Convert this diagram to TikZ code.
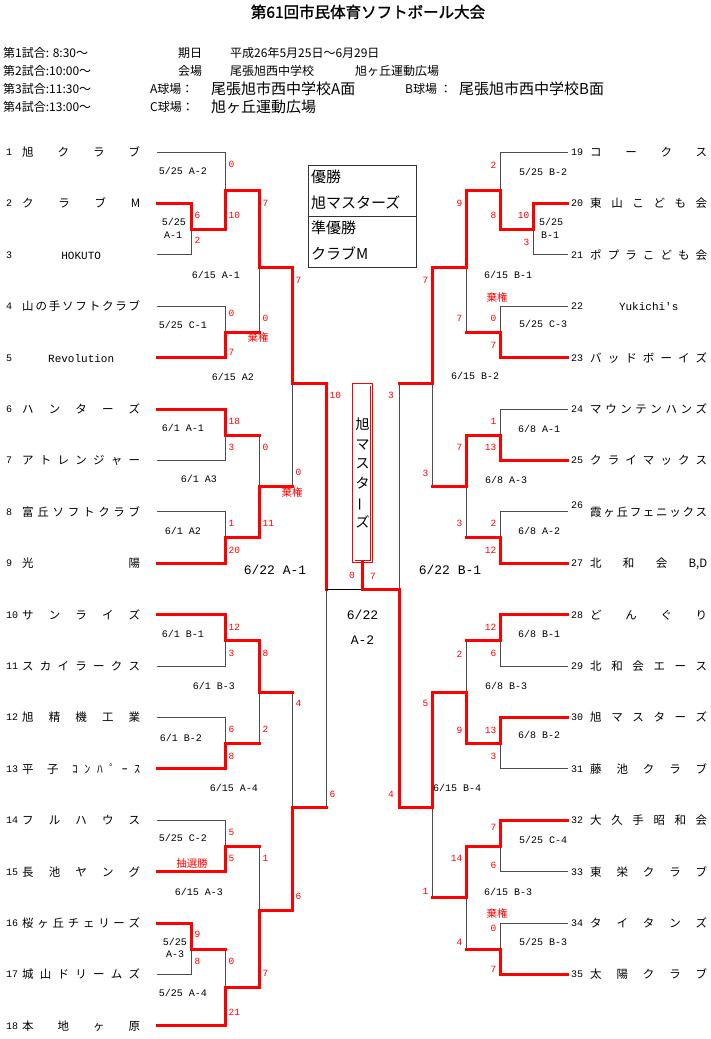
\documentclass[tikz,border=0pt]{standalone}
\usepackage{fontspec}
\setmainfont{Noto Sans CJK JP}
\newfontfamily\jpf{Noto Sans CJK JP}
\newfontfamily\titlef{Noto Sans CJK JP}[FakeBold=1.5]
\newfontfamily\monof{Liberation Mono}
\pgfdeclarelayer{bg}
\pgfsetlayers{bg,main}
\newcount\scn
\tikzset{
 thinln/.style={draw=black!70, line width=1pt, line cap=rect},
 redln/.style={draw=red, line width=3pt, line cap=rect},
 nm/.style={inner sep=0, font=\jpf\fontsize{11.5}{12}\selectfont, anchor=base west, yshift=-4.4pt},
 num/.style={inner sep=0, font=\monof\fontsize{10}{12}\selectfont, anchor=base west, yshift=-3.4pt},
 scl/.style={inner sep=0, text=red, font=\monof\fontsize{9.5}{10}\selectfont, anchor=base west, yshift=-3.2pt},
 scr/.style={scl, anchor=base east},
 scc/.style={scl, anchor=base},
 lab/.style={inner sep=0, font=\monof\fontsize{10}{11}\selectfont, anchor=base, yshift=-3.4pt},
 biglab/.style={inner sep=0, font=\monof\fontsize{13}{14}\selectfont, anchor=base, yshift=-4.5pt},
 redjp/.style={inner sep=0, text=red, font=\jpf\fontsize{10.5}{11}\selectfont, anchor=base, yshift=-3.8pt},
 hdr/.style={inner sep=0, font=\jpf\fontsize{12}{13}\selectfont, anchor=base west, yshift=-4.5pt},
 hdrbig/.style={inner sep=0, font=\jpf\fontsize{15}{16}\selectfont, anchor=base west, yshift=-5.6pt},
 boxtxt/.style={inner sep=0, font=\jpf\fontsize{15}{16}\selectfont, anchor=base west, yshift=-5.6pt},
 champbox/.style={draw=red, double=white, double distance=1.6pt, line width=0.9pt,
   minimum width=17.6pt, minimum height=176.6pt, inner sep=0, align=center,
   font=\jpf\fontsize{14}{19.5}\selectfont},
}
% match: x, ytop, ybot, yout, xnext, winner(t/b)
\newcommand\bm[6]{%
  \begin{pgfonlayer}{bg}%
  \if#6t\draw[thinln] (#1,#4) -- (#1,#3);\else\draw[thinln] (#1,#2) -- (#1,#4);\fi
  \end{pgfonlayer}%
  \if#6t\draw[redln] (#1,#2) -- (#1,#4) -- (#5,#4);\else\draw[redln] (#1,#3) -- (#1,#4) -- (#5,#4);\fi}
\newcommand\tlthin[3]{\begin{pgfonlayer}{bg}\draw[thinln] (#1,#3) -- (#2,#3);\end{pgfonlayer}}
\newcommand\tlred[3]{\draw[redln] (#1,#3) -- (#2,#3);}
\newcommand\teamL[3]{\node[num] (n#1) at (6,#2) {#1}; \node[nm] (t#1) at (22,#2) {\makebox[118pt][s]{#3}};}
\newcommand\teamR[3]{\node[num] (n#1) at (571,#2) {#1}; \node[nm] (t#1) at (590,#2) {\makebox[117pt][s]{#3}};}
\newcommand\sL[3]{\global\advance\scn by 1 \node[scl] (s\the\scn) at (#1,#2) {#3};}
\newcommand\sR[3]{\global\advance\scn by 1 \node[scr] (s\the\scn) at (#1,#2) {#3};}
\newcommand\sC[3]{\global\advance\scn by 1 \node[scc] (s\the\scn) at (#1,#2) {#3};}
\newcommand\lb[3]{\global\advance\scn by 1 \node[lab] (l\the\scn) at (#1,#2) {#3};}
\newcommand\blb[3]{\global\advance\scn by 1 \node[biglab] (l\the\scn) at (#1,#2) {#3};}
\newcommand\rj[3]{\global\advance\scn by 1 \node[redjp] (r\the\scn) at (#1,#2) {#3};}
\newcommand\cen[1]{\hfill{\monof\fontsize{11}{12}\selectfont #1}\hfill}
\begin{document}
\begin{tikzpicture}[x=1pt,y=-1pt]
\useasboundingbox (0,0) rectangle (710,1039);
\begin{pgfonlayer}{bg}
\fill[white] (0,0) rectangle (710,1039);
\end{pgfonlayer}
% title and header
\node[inner sep=0, font=\titlef\fontsize{15.5}{16}\selectfont, anchor=base, yshift=-5.8pt] (title) at (368,12) {第61回市民体育ソフトボール大会};
\node[hdr] (h1) at (3,53) {第1試合: 8:30～};
\node[hdr] (h2) at (3,71) {第2試合:10:00～};
\node[hdr] (h3) at (3,89) {第3試合:11:30～};
\node[hdr] (h4) at (3,107) {第4試合:13:00～};
\node[hdr] (h5) at (178,53) {期日};
\node[hdr] (h6) at (230,53) {平成26年5月25日～6月29日};
\node[hdr] (h7) at (178,71) {会場};
\node[hdr] (h8) at (230,71) {尾張旭西中学校};
\node[hdr] (h9) at (355,71) {旭ヶ丘運動広場};
\node[hdr] (h10) at (150,89) {A球場：};
\node[hdrbig] (h11) at (211,89) {尾張旭市西中学校A面};
\node[hdr] (h12) at (405,89) {B球場 ：};
\node[hdrbig] (h13) at (459,89) {尾張旭市西中学校B面};
\node[hdr] (h14) at (150,107) {C球場：};
\node[hdrbig] (h15) at (211,107) {旭ヶ丘運動広場};
% winner box
\node[draw=black!80, line width=1pt, minimum width=108pt, minimum height=102pt, inner sep=0] (wbox) at (362,216) {};
\draw[draw=black!80, line width=1pt] (wbox.west) -- (wbox.east);
\node[boxtxt] (w1) at (311,177) {優勝};
\node[boxtxt] (w2) at (311,203) {旭マスターズ};
\node[boxtxt] (w3) at (311,228) {準優勝};
\node[boxtxt] (w4) at (311,254) {クラブM};
% teams left
\teamL{1}{152}{旭\hfill ク\hfill ラ\hfill ブ}
\teamL{2}{203.4}{ク\hfill ラ\hfill ブ\hfill M}
\teamL{3}{254.8}{\cen{HOKUTO}}
\teamL{4}{306.2}{山\hfill の\hfill 手\hfill ソ\hfill フ\hfill ト\hfill ク\hfill ラ\hfill ブ}
\teamL{5}{357.6}{\cen{Revolution}}
\teamL{6}{409}{ハ\hfill ン\hfill タ\hfill ー\hfill ズ}
\teamL{7}{460.4}{ア\hfill ト\hfill レ\hfill ン\hfill ジ\hfill ャ\hfill ー}
\teamL{8}{511.8}{富\hfill 丘\hfill ソ\hfill フ\hfill ト\hfill ク\hfill ラ\hfill ブ}
\teamL{9}{563.2}{光\hfill 陽}
\teamL{10}{614.6}{サ\hfill ン\hfill ラ\hfill イ\hfill ズ}
\teamL{11}{666}{ス\hfill カ\hfill イ\hfill ラ\hfill ー\hfill ク\hfill ス}
\teamL{12}{717.4}{旭\hfill 精\hfill 機\hfill 工\hfill 業}
\teamL{13}{768.8}{平\hfill\hfill 子\hfill\hfill ｺ\hfill ﾝ\hfill ﾊ\hfill ﾟ\hfill ｰ\hfill ｽ}
\teamL{14}{820.2}{フ\hfill ル\hfill ハ\hfill ウ\hfill ス}
\teamL{15}{871.6}{長\hfill 池\hfill ヤ\hfill ン\hfill グ}
\teamL{16}{923}{桜\hfill ヶ\hfill 丘\hfill チ\hfill ェ\hfill リ\hfill ー\hfill ズ}
\teamL{17}{974.4}{城\hfill 山\hfill ド\hfill リ\hfill ー\hfill ム\hfill ズ}
\teamL{18}{1025.8}{本\hfill 地\hfill ヶ\hfill 原}
% teams right
\teamR{19}{152}{コ\hfill ー\hfill ク\hfill ス}
\teamR{20}{203.4}{東\hfill 山\hfill こ\hfill ど\hfill も\hfill 会}
\teamR{21}{254.8}{ポ\hfill プ\hfill ラ\hfill こ\hfill ど\hfill も\hfill 会}
\teamR{22}{306.2}{\cen{Yukichi's}}
\teamR{23}{357.6}{バ\hfill ッ\hfill ド\hfill ボ\hfill ー\hfill イ\hfill ズ}
\teamR{24}{409}{マ\hfill ウ\hfill ン\hfill テ\hfill ン\hfill ハ\hfill ン\hfill ズ}
\teamR{25}{460.4}{ク\hfill ラ\hfill イ\hfill マ\hfill ッ\hfill ク\hfill ス}
\node[num] (n26) at (571,505) {26};
\node[nm] (t26) at (590,511.8) {\makebox[117pt][s]{霞\hfill ヶ\hfill 丘\hfill フ\hfill ェ\hfill ニ\hfill ッ\hfill ク\hfill ス}};
\teamR{27}{563.2}{北\hfill 和\hfill 会\hfill B,D}
\teamR{28}{614.6}{ど\hfill ん\hfill ぐ\hfill り}
\teamR{29}{666}{北\hfill 和\hfill 会\hfill エ\hfill ー\hfill ス}
\teamR{30}{717.4}{旭\hfill マ\hfill ス\hfill タ\hfill ー\hfill ズ}
\teamR{31}{768.8}{藤\hfill 池\hfill ク\hfill ラ\hfill ブ}
\teamR{32}{820.2}{大\hfill 久\hfill 手\hfill 昭\hfill 和\hfill 会}
\teamR{33}{871.6}{東\hfill 栄\hfill ク\hfill ラ\hfill ブ}
\teamR{34}{923}{タ\hfill イ\hfill タ\hfill ン\hfill ズ}
\teamR{35}{974.4}{太\hfill 陽\hfill ク\hfill ラ\hfill ブ}
% team lines left
\tlthin{157}{225}{152}
\tlred{157}{191}{203.4}
\tlthin{157}{191}{254.8}
\tlthin{157}{225}{306.2}
\tlred{157}{225}{357.6}
\tlred{157}{225}{409}
\tlthin{157}{225}{460.4}
\tlthin{157}{225}{511.8}
\tlred{157}{225}{563.2}
\tlred{157}{225}{614.6}
\tlthin{157}{225}{666}
\tlthin{157}{225}{717.4}
\tlred{157}{225}{768.8}
\tlthin{157}{225}{820.2}
\tlred{157}{225}{871.6}
\tlred{157}{191}{923}
\tlthin{157}{191}{974.4}
\tlred{157}{225}{1025.8}
% team lines right
\tlthin{567}{500}{152}
\tlred{567}{533}{203.4}
\tlthin{567}{533}{254.8}
\tlthin{567}{500}{306.2}
\tlred{567}{500}{357.6}
\tlthin{567}{500}{409}
\tlred{567}{500}{460.4}
\tlthin{567}{500}{511.8}
\tlred{567}{500}{563.2}
\tlred{567}{500}{614.6}
\tlthin{567}{500}{666}
\tlred{567}{500}{717.4}
\tlthin{567}{500}{768.8}
\tlred{567}{500}{820.2}
\tlthin{567}{500}{871.6}
\tlthin{567}{500}{923}
\tlred{567}{500}{974.4}
% matches left
\bm{191}{203.4}{254.8}{229}{225}{t}
\bm{225}{152}{229}{190}{259}{b}
\bm{225}{306.2}{357.6}{332}{259}{b}
\bm{259}{190}{332}{267}{292}{t}
\bm{225}{409}{460.4}{435}{259}{t}
\bm{225}{511.8}{563.2}{537.5}{259}{b}
\bm{259}{435}{537.5}{486}{292}{b}
\bm{292}{267}{486}{383}{326}{t}
\bm{225}{614.6}{666}{640}{259}{t}
\bm{225}{717.4}{768.8}{743}{259}{b}
\bm{259}{640}{743}{692}{292}{t}
\bm{225}{820.2}{871.6}{846}{259}{b}
\bm{191}{923}{974.4}{949}{225}{t}
\bm{225}{949}{1025.8}{987}{259}{b}
\bm{259}{846}{987}{910}{292}{b}
\bm{292}{692}{910}{807}{326}{b}
\bm{326}{383}{807}{589}{326}{t}
% matches right
\bm{533}{203.4}{254.8}{229}{500}{t}
\bm{500}{152}{229}{190}{466}{b}
\bm{500}{306.2}{357.6}{332}{466}{b}
\bm{466}{190}{332}{267}{432}{t}
\bm{500}{409}{460.4}{435}{466}{b}
\bm{500}{511.8}{563.2}{537.5}{466}{b}
\bm{466}{435}{537.5}{486}{432}{t}
\bm{432}{267}{486}{383}{399}{t}
\bm{500}{614.6}{666}{640}{466}{t}
\bm{500}{717.4}{768.8}{743}{466}{t}
\bm{466}{640}{743}{692}{432}{b}
\bm{500}{820.2}{871.6}{846}{466}{t}
\bm{500}{923}{974.4}{949}{466}{b}
\bm{466}{846}{949}{897}{432}{t}
\bm{432}{692}{897}{807}{399}{t}
\bm{399}{383}{807}{589}{362.5}{b}
% champion box and final
\node[champbox] (champ) at (362.5,473) {旭\\マ\\ス\\タ\\\rotatebox[origin=c]{90}{ー}\\ズ};
\coordinate (fin) at (362.5,589);
\draw[draw=black, line width=1pt] (326,589) -- (fin);
\draw[redln] (fin) -- (champ.south);
% scores left
\sL{228.5}{164}{0}
\sL{228.5}{215}{10}
\sL{194.5}{215}{6}
\sL{194.5}{240}{2}
\sL{262.5}{203}{7}
\sL{262.5}{318}{0}
\sL{228.5}{313}{0}
\sL{228.5}{352}{7}
\sL{295.5}{280}{7}
\sL{295.5}{472}{0}
\sL{228.5}{421}{18}
\sL{228.5}{447}{3}
\sL{262.5}{447}{0}
\sL{262.5}{523}{11}
\sL{228.5}{523}{1}
\sL{228.5}{550}{20}
\sL{329.5}{395}{10}
\sL{329.5}{794}{6}
\sL{228.5}{627}{12}
\sL{228.5}{653}{3}
\sL{262.5}{653}{8}
\sL{262.5}{729}{2}
\sL{295.5}{703}{4}
\sL{295.5}{896}{6}
\sL{228.5}{729}{6}
\sL{228.5}{756}{8}
\sL{228.5}{832}{5}
\sL{228.5}{858}{5}
\sL{262.5}{858}{1}
\sL{262.5}{973}{7}
\sL{194.5}{934}{9}
\sL{194.5}{961}{8}
\sL{228.5}{961}{0}
\sL{228.5}{1012}{21}
\sC{352}{575}{0}
\sC{373}{576}{7}
% scores right
\sR{496.5}{165}{2}
\sR{496.5}{215}{8}
\sR{529.5}{215}{10}
\sR{529.5}{242}{3}
\sR{462.5}{203}{9}
\sR{462.5}{318}{7}
\sR{496.5}{318}{0}
\sR{496.5}{345}{7}
\sR{428.5}{280}{7}
\sR{428.5}{473}{3}
\sR{496.5}{421}{1}
\sR{496.5}{447}{13}
\sR{462.5}{447}{7}
\sR{462.5}{523}{3}
\sR{496.5}{523}{2}
\sR{496.5}{550}{12}
\sR{394}{395}{3}
\sR{394}{794}{4}
\sR{496.5}{627}{12}
\sR{496.5}{653}{6}
\sR{462.5}{654}{2}
\sR{462.5}{730}{9}
\sR{428.5}{703}{5}
\sR{428.5}{891}{1}
\sR{496.5}{730}{13}
\sR{496.5}{756}{3}
\sR{496.5}{827}{7}
\sR{496.5}{865}{6}
\sR{462.5}{858}{14}
\sR{462.5}{942}{4}
\sR{496.5}{928}{0}
\sR{496.5}{969}{7}
% red notes
\rj{258}{338}{棄権}
\rj{292}{493}{棄権}
\rj{192}{864}{抽選勝}
\rj{497}{298}{棄権}
\rj{497}{914}{棄権}
% match labels left
\lb{183}{171}{5/25 A-2}
\lb{174}{222}{5/25}
\lb{173}{235}{A-1}
\lb{216}{275}{6/15 A-1}
\lb{183}{325}{5/25 C-1}
\lb{233}{377}{6/15 A2}
\lb{183}{428}{6/1 A-1}
\lb{199}{479}{6/1 A3}
\lb{183}{531}{6/1 A2}
\blb{275}{570}{6/22 A-1}
\lb{183}{634}{6/1 B-1}
\lb{214}{686}{6/1 B-3}
\lb{181}{738}{6/1 B-2}
\lb{234}{788}{6/15 A-4}
\lb{183}{838}{5/25 C-2}
\lb{199}{892}{6/15 A-3}
\lb{175}{942}{5/25}
\lb{175}{954}{A-3}
\lb{183}{993}{5/25 A-4}
% match labels right
\lb{543}{172}{5/25 B-2}
\lb{551}{222}{5/25}
\lb{550}{235}{B-1}
\lb{508}{275}{6/15 B-1}
\lb{543}{324}{5/25 C-3}
\lb{475}{376}{6/15 B-2}
\lb{539}{429}{6/8 A-1}
\lb{506}{480}{6/8 A-3}
\lb{539}{531}{6/8 A-2}
\blb{450}{570}{6/22 B-1}
\lb{539}{634}{6/8 B-1}
\lb{506}{686}{6/8 B-3}
\lb{539}{735}{6/8 B-2}
\lb{457}{788}{6/15 B-4}
\lb{543}{840}{5/25 C-4}
\lb{508}{892}{6/15 B-3}
\lb{543}{942}{5/25 B-3}
% final label
\blb{362.5}{615}{6/22}
\blb{362.5}{640}{A-2}
\end{tikzpicture}
\end{document}
